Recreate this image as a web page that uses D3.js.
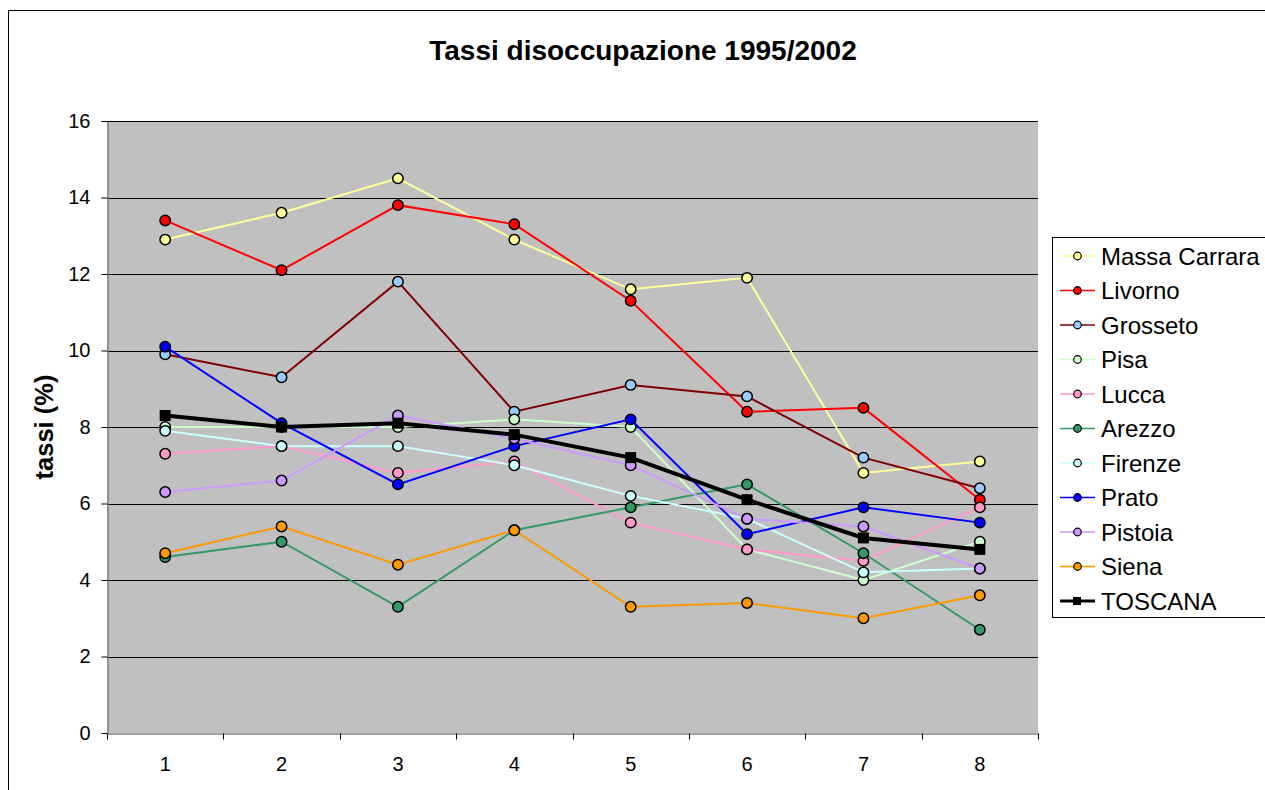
<!DOCTYPE html>
<html>
<head>
<meta charset="utf-8">
<script src="https://cdn.jsdelivr.net/npm/d3@7"></script>
<style>
  body { margin: 0; background: #fff; }
  svg { display: block; font-family: Arial, "Liberation Sans", sans-serif; }
</style>
</head>
<body>
<div id="chart"></div>
<script>
// categories on the x axis
var categories = [1, 2, 3, 4, 5, 6, 7, 8];

// unemployment rates per province (%)
var massaCarrara = [12.9, 13.6, 14.5, 12.9, 11.6, 11.9, 6.8, 7.1];
var livorno      = [13.4, 12.1, 13.8, 13.3, 11.3, 8.4, 8.5, 6.1];
var grosseto     = [9.9, 9.3, 11.8, 8.4, 9.1, 8.8, 7.2, 6.4];
var pisa         = [8.0, 8.0, 8.0, 8.2, 8.0, 4.8, 4.0, 5.0];
var lucca        = [7.3, 7.5, 6.8, 7.1, 5.5, 4.8, 4.5, 5.9];
var arezzo       = [4.6, 5.0, 3.3, 5.3, 5.9, 6.5, 4.7, 2.7];
var firenze      = [7.9, 7.5, 7.5, 7.0, 6.2, 5.6, 4.2, 4.3];
var prato        = [10.1, 8.1, 6.5, 7.5, 8.2, 5.2, 5.9, 5.5];
var pistoia      = [6.3, 6.6, 8.3, 7.7, 7.0, 5.6, 5.4, 4.3];
var siena        = [4.7, 5.4, 4.4, 5.3, 3.3, 3.4, 3.0, 3.6];
var toscana      = [8.3, 8.0, 8.1, 7.8, 7.2, 6.1, 5.1, 4.8];

var seriesNames = ["Massa Carrara", "Livorno", "Grosseto", "Pisa", "Lucca", "Arezzo",
                   "Firenze", "Prato", "Pistoia", "Siena", "TOSCANA"];
var seriesValues = [massaCarrara, livorno, grosseto, pisa, lucca, arezzo,
                    firenze, prato, pistoia, siena, toscana];

var yTicks = [0, 2, 4, 6, 8, 10, 12, 14, 16];

// styles
var lineColors = ["#ffff99", "#ff0000", "#800000", "#ccffcc", "#ff99cc", "#339966",
                  "#ccffff", "#0000ff", "#cc99ff", "#ff9900", "#000000"];
var markerFills = ["#ffff99", "#ff0000", "#99ccff", "#ccffcc", "#ff99cc", "#339966",
                   "#ccffff", "#0000ff", "#cc99ff", "#ff9900", "#000000"];

var width = 1265, height = 790;
var plot = {left: 107, right: 1038, top: 121, bottom: 733};
var tickFont = '20px';

var svg = d3.select('#chart').append('svg')
    .attr('width', width)
    .attr('height', height);

// outer chart frame (runs off the right and bottom edges)
svg.append('rect')
    .attr('x', 8.5).attr('y', 10.5)
    .attr('width', 1400).attr('height', 900)
    .attr('fill', '#fff')
    .attr('stroke', '#000')
    .attr('stroke-width', 1);

var x = d3.scaleBand()
    .domain(categories)
    .range([plot.left, plot.right])
    .padding(0);

var y = d3.scaleLinear()
    .domain([0, 16])
    .range([plot.bottom, plot.top]);

// plot background
svg.append('rect')
    .attr('x', plot.left).attr('y', plot.top)
    .attr('width', plot.right - plot.left)
    .attr('height', plot.bottom - plot.top)
    .attr('fill', '#c0c0c0');

// gridlines
svg.append('g').selectAll('line')
    .data(yTicks.filter(function(d) { return d > 0; }))
    .enter().append('line')
    .attr('x1', plot.left).attr('x2', plot.right)
    .attr('y1', function(d) { return Math.round(y(d)) + 0.5; })
    .attr('y2', function(d) { return Math.round(y(d)) + 0.5; })
    .attr('stroke', '#000')
    .attr('stroke-width', 1);

// y axis
var yAxis = svg.append('g')
    .attr('transform', 'translate(' + (plot.left + 0.5) + ',0)')
    .call(d3.axisLeft(y).tickValues(yTicks).tickSize(6).tickPadding(11).tickSizeOuter(0));
yAxis.select('.domain').attr('stroke', '#808080').attr('stroke-width', 1.5);
yAxis.selectAll('.tick line').attr('stroke', '#000');
yAxis.selectAll('.tick text')
    .attr('font-size', tickFont)
    .attr('font-family', 'Arial, "Liberation Sans", sans-serif')
    .attr('fill', '#000');

// x axis, ticks sit on category boundaries
var xAxis = svg.append('g')
    .attr('transform', 'translate(0,' + (plot.bottom + 0.5) + ')')
    .call(d3.axisBottom(x).tickSize(0).tickPadding(23));
xAxis.select('.domain').attr('stroke', '#808080').attr('stroke-width', 1.5);
xAxis.selectAll('.tick text')
    .attr('font-size', tickFont)
    .attr('font-family', 'Arial, "Liberation Sans", sans-serif')
    .attr('fill', '#000');
xAxis.selectAll('.boundary')
    .data(categories.concat([null]))
    .enter().append('line')
    .attr('x1', function(d, i) { return Math.round(plot.left + i * x.bandwidth()) + 0.5; })
    .attr('x2', function(d, i) { return Math.round(plot.left + i * x.bandwidth()) + 0.5; })
    .attr('y1', 0).attr('y2', 6)
    .attr('stroke', '#000');

// title
svg.append('text')
    .attr('x', 643).attr('y', 60)
    .attr('text-anchor', 'middle')
    .attr('font-size', '28px')
    .attr('font-weight', 'bold')
    .text('Tassi disoccupazione 1995/2002');

// y axis title
svg.append('text')
    .attr('transform', 'translate(53,' + ((plot.top + plot.bottom) / 2) + ') rotate(-90)')
    .attr('text-anchor', 'middle')
    .attr('font-size', '25.5px')
    .attr('font-weight', 'bold')
    .text('tassi (%)');

// series
var line = d3.line()
    .x(function(d, i) { return x(categories[i]) + x.bandwidth() / 2; })
    .y(function(d) { return y(d); });

seriesValues.forEach(function(vals, s) {
    var isTotal = seriesNames[s] === 'TOSCANA';
    svg.append('path')
        .datum(vals)
        .attr('d', line)
        .attr('fill', 'none')
        .attr('stroke', lineColors[s])
        .attr('stroke-width', isTotal ? 4 : 2);

    var g = svg.append('g');
    if (isTotal) {
        g.selectAll('rect')
            .data(vals)
            .enter().append('rect')
            .attr('x', function(d, i) { return x(categories[i]) + x.bandwidth() / 2 - 5.5; })
            .attr('y', function(d) { return y(d) - 5.5; })
            .attr('width', 11).attr('height', 11)
            .attr('fill', '#000');
    } else {
        g.selectAll('circle')
            .data(vals)
            .enter().append('circle')
            .attr('cx', function(d, i) { return x(categories[i]) + x.bandwidth() / 2; })
            .attr('cy', function(d) { return y(d); })
            .attr('r', 5.2)
            .attr('fill', markerFills[s])
            .attr('stroke', '#000')
            .attr('stroke-width', 1.5);
    }
});

// legend
var legend = svg.append('g');
legend.append('rect')
    .attr('x', 1052.5).attr('y', 237.5)
    .attr('width', 300).attr('height', 380)
    .attr('fill', '#fff')
    .attr('stroke', '#000');

var rowH = 34.5, row0 = 256;
seriesNames.forEach(function(name, s) {
    var isTotal = name === 'TOSCANA';
    var cy = row0 + s * rowH;
    legend.append('line')
        .attr('x1', 1060).attr('x2', 1095)
        .attr('y1', cy).attr('y2', cy)
        .attr('stroke', lineColors[s])
        .attr('stroke-width', isTotal ? 3 : 1.5);
    if (isTotal) {
        legend.append('rect')
            .attr('x', 1073).attr('y', cy - 4)
            .attr('width', 8).attr('height', 8)
            .attr('fill', '#000');
    } else {
        legend.append('circle')
            .attr('cx', 1077.5).attr('cy', cy)
            .attr('r', 3.8)
            .attr('fill', markerFills[s])
            .attr('stroke', '#000')
            .attr('stroke-width', 1.2);
    }
    legend.append('text')
        .attr('x', 1101).attr('y', cy + 8.5)
        .attr('font-size', '24px')
        .text(name);
});
</script>
</body>
</html>
